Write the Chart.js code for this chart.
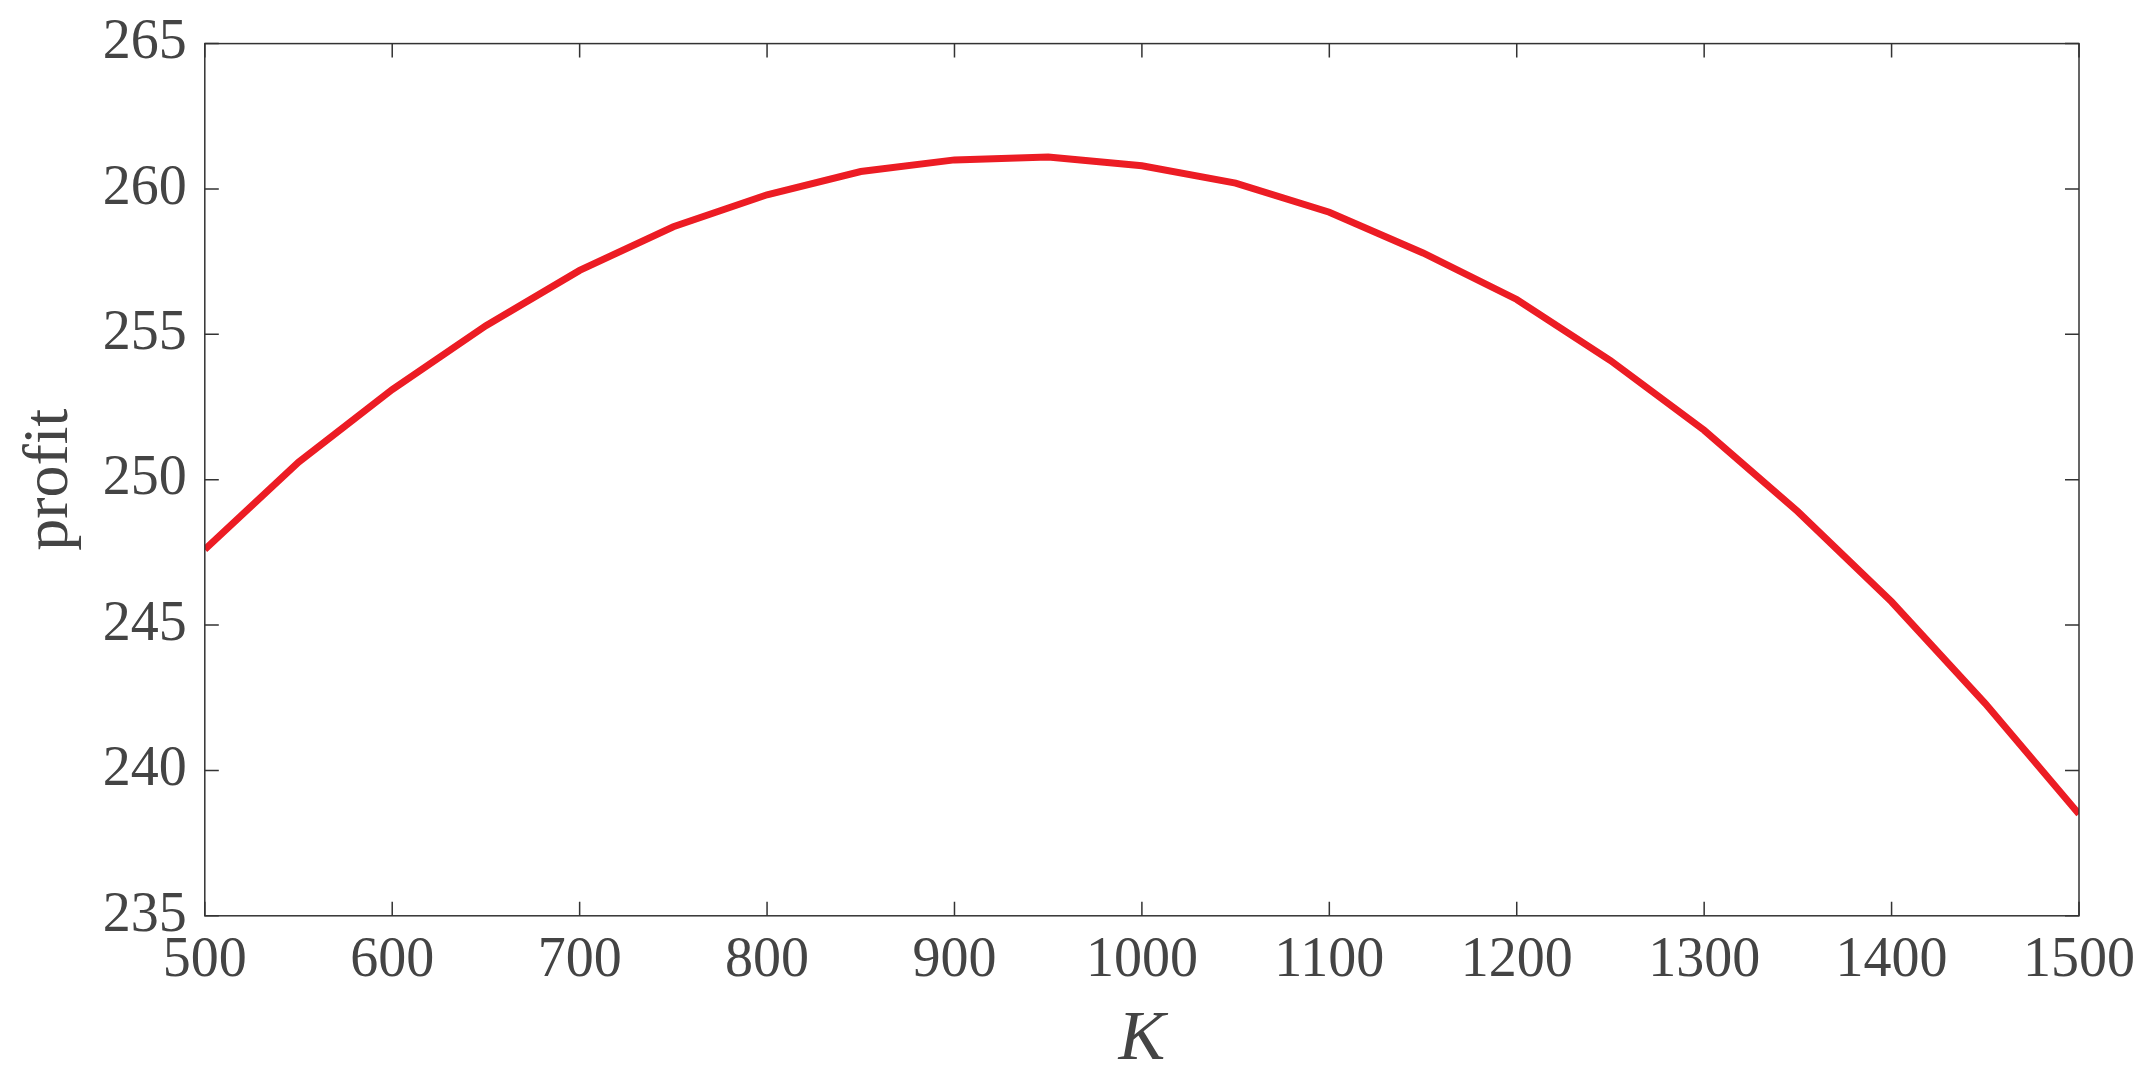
<!DOCTYPE html>
<html>
<head>
<meta charset="utf-8">
<script src="https://cdn.jsdelivr.net/npm/chart.js@4"></script>
<style>
  html, body { margin: 0; padding: 0; background: #fff; }
</style>
</head>
<body>
<canvas id="grafico" width="2139" height="1083"></canvas>
<script>
const kValues = [500, 550, 600, 650, 700, 750, 800, 850, 900, 950, 1000,
  1050, 1100, 1150, 1200, 1250, 1300, 1350, 1400, 1450, 1500];
const profit = [247.6, 250.6, 253.1, 255.3, 257.2, 258.7, 259.8, 260.6, 261.0, 261.1, 260.8,
  260.2, 259.2, 257.8, 256.2, 254.1, 251.7, 248.9, 245.8, 242.3, 238.5];
const xTicks = [500, 600, 700, 800, 900, 1000, 1100, 1200, 1300, 1400, 1500];
const yTicks = [235, 240, 245, 250, 255, 260, 265];

const punti = kValues.map((k, i) => ({ x: k, y: profit[i] }));

// box around the plot with inward tick marks, like the original
const cornice = {
  id: "cornice",
  afterDraw(chart) {
    const ctx = chart.ctx;
    const a = chart.chartArea;
    const sx = chart.scales.x, sy = chart.scales.y;
    ctx.save();
    ctx.strokeStyle = "#333";
    ctx.lineWidth = 1.5;
    ctx.strokeRect(a.left, a.top, a.right - a.left, a.bottom - a.top);
    const len = 14;
    ctx.beginPath();
    xTicks.forEach(v => {
      const px = sx.getPixelForValue(v);
      ctx.moveTo(px, a.bottom); ctx.lineTo(px, a.bottom - len);
      ctx.moveTo(px, a.top); ctx.lineTo(px, a.top + len);
    });
    yTicks.forEach(v => {
      const py = sy.getPixelForValue(v);
      ctx.moveTo(a.left, py); ctx.lineTo(a.left + len, py);
      ctx.moveTo(a.right, py); ctx.lineTo(a.right - len, py);
    });
    ctx.stroke();
    ctx.restore();
  }
};

const font = "'Liberation Serif', 'DejaVu Serif', serif";

new Chart(document.getElementById("grafico"), {
  type: "line",
  data: {
    datasets: [{
      data: punti,
      borderColor: "#ec1c24",
      borderWidth: 7,
      pointRadius: 0,
      tension: 0,
      fill: false
    }]
  },
  options: {
    responsive: false,
    animation: false,
    layout: { padding: { top: 18, right: 50, left: 8, bottom: 0 } },
    plugins: { legend: { display: false }, tooltip: { enabled: false } },
    scales: {
      x: {
        type: "linear",
        min: 500, max: 1500,
        afterBuildTicks: s => { s.ticks = xTicks.map(v => ({ value: v })); },
        grid: { display: false },
        border: { display: false },
        ticks: { color: "#444", font: { family: font, size: 56 }, padding: 4, maxRotation: 0,
          callback: v => String(v) },
        title: { display: true, text: "K", color: "#444", padding: { top: 0, bottom: 0 },
          font: { family: font, size: 70, style: "italic" } }
      },
      y: {
        min: 235, max: 265,
        afterBuildTicks: s => { s.ticks = yTicks.map(v => ({ value: v })); },
        grid: { display: false },
        border: { display: false },
        ticks: { color: "#444", font: { family: font, size: 56 }, padding: 10 },
        title: { display: true, text: "profit", color: "#444", padding: 4,
          font: { family: font, size: 64 } }
      }
    }
  },
  plugins: [cornice]
});
</script>
</body>
</html>
